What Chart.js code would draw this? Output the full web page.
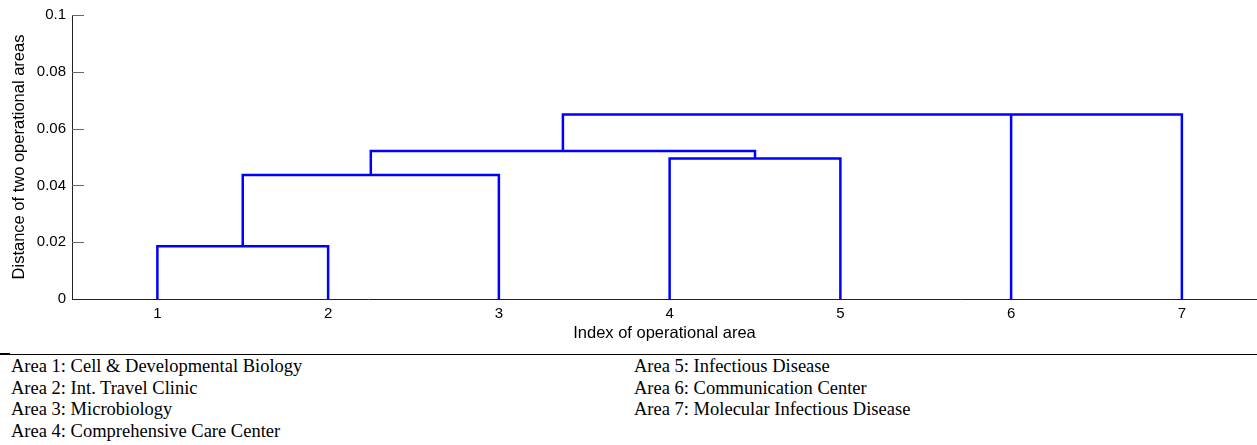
<!DOCTYPE html>
<html>
<head>
<meta charset="utf-8">
<script src="https://cdn.jsdelivr.net/npm/chart.js@4"></script>
<style>
  body { margin: 0; background: #fff; width: 1257px; height: 445px; overflow: hidden; position: relative; }
  #wrap { position: absolute; left: 0; top: 0; width: 1257px; height: 345px; }
  #rule { position: absolute; left: 0; top: 354px; width: 1257px; height: 0; border-top: 1px solid #000; }
  #ruleStub { position: absolute; left: 0; top: 353px; width: 10px; height: 2px; background: #000; }
  .col { position: absolute; top: 356px; font-family: "Liberation Serif", "Times New Roman", serif; font-size: 18.5px; line-height: 21.7px; color: #000; white-space: nowrap; }
</style>
</head>
<body>
<div id="wrap"><canvas id="chart"></canvas></div>
<div id="ruleStub"></div>
<div id="rule"></div>
<div class="col" id="colLeft" style="left: 11px;"></div>
<div class="col" id="colRight" style="left: 634px;"></div>
<script>
// leaves in dendrogram order
const leaves = [1, 2, 3, 4, 5, 6, 7];
// linkage: node ids > 7 are previous merges (8 = first merge, ...)
const linkA = [1, 8, 4, 9, 11, 12];
const linkB = [2, 3, 5, 10, 6, 7];
const linkHeight = [0.0186, 0.0437, 0.0495, 0.0521, 0.065, 0.065];

const yTickValues = [0, 0.02, 0.04, 0.06, 0.08, 0.1];
const areaNames = [
    'Area 1: Cell & Developmental Biology',
    'Area 2: Int. Travel Clinic',
    'Area 3: Microbiology',
    'Area 4: Comprehensive Care Center',
    'Area 5: Infectious Disease',
    'Area 6: Communication Center',
    'Area 7: Molecular Infectious Disease'
];

document.getElementById('colLeft').innerHTML = areaNames.slice(0, 4).map(s => '<div>' + s.replace('&', '&amp;') + '</div>').join('');
document.getElementById('colRight').innerHTML = areaNames.slice(4).map(s => '<div>' + s + '</div>').join('');

// build U-shaped links
const nodeX = {};
const nodeH = {};
leaves.forEach((leaf, i) => { nodeX[leaf] = i + 1; nodeH[leaf] = 0; });
const points = [];
for (let k = 0; k < linkA.length; k++) {
    const a = linkA[k], b = linkB[k], h = linkHeight[k];
    points.push({x: nodeX[a], y: nodeH[a]});
    points.push({x: nodeX[a], y: h});
    points.push({x: nodeX[b], y: h});
    points.push({x: nodeX[b], y: nodeH[b]});
    points.push({x: nodeX[b], y: null}); // break
    const id = leaves.length + k + 1;
    nodeX[id] = (nodeX[a] + nodeX[b]) / 2;
    nodeH[id] = h;
}

// inward y ticks like the original
const innerTicks = {
    id: 'innerTicks',
    afterDraw(chart) {
        const ctx = chart.ctx;
        const ys = chart.scales.y;
        const left = chart.chartArea.left;
        ctx.save();
        ctx.strokeStyle = '#666';
        ctx.lineWidth = 1;
        yTickValues.forEach(v => {
            if (v === 0) return;
            const py = Math.round(ys.getPixelForValue(v)) + 0.5;
            ctx.beginPath();
            ctx.moveTo(left, py);
            ctx.lineTo(left + 12, py);
            ctx.stroke();
        });
        ctx.restore();
    }
};

const tickFont = {family: '"Liberation Sans", Arial, sans-serif', size: 15};
const titleFont = {family: '"Liberation Sans", Arial, sans-serif', size: 16.5};

new Chart(document.getElementById('chart'), {
    type: 'line',
    data: {
        datasets: [{
            data: points,
            borderColor: '#0000ff',
            borderWidth: 2.5,
            borderJoinStyle: 'miter',
            pointRadius: 0,
            tension: 0,
            spanGaps: false,
            fill: false
        }]
    },
    options: {
        responsive: true,
        maintainAspectRatio: false,
        animation: false,
        devicePixelRatio: 1,
        layout: {padding: {top: 13, right: 0, left: 0, bottom: 0}},
        plugins: {legend: {display: false}, tooltip: {enabled: false}},
        scales: {
            x: {
                type: 'linear',
                min: 0.5,
                max: 7.44,
                grid: {display: false, drawTicks: false},
                border: {display: true, color: '#222', width: 1},
                afterBuildTicks: s => { s.ticks = leaves.map((l, i) => ({value: i + 1})); },
                ticks: {
                    color: '#000', font: tickFont, padding: 6, maxRotation: 0,
                    callback: (v) => String(leaves[v - 1])
                },
                title: {display: true, text: 'Index of operational area', color: '#000', font: titleFont, padding: {top: 0, bottom: 2}},
                afterFit: s => { s.height = 46; }
            },
            y: {
                type: 'linear',
                min: 0,
                max: 0.1,
                grid: {display: false, drawTicks: false},
                border: {display: true, color: '#222', width: 1},
                afterBuildTicks: s => { s.ticks = yTickValues.map(v => ({value: v})); },
                ticks: {
                    color: '#000', font: tickFont, padding: 6,
                    callback: v => String(+v.toFixed(2))
                },
                title: {display: true, text: 'Distance of two operational areas', color: '#000', font: titleFont, padding: {top: 10, bottom: 0}},
                afterFit: s => { s.width = 72; }
            }
        }
    },
    plugins: [innerTicks]
});
</script>
</body>
</html>
